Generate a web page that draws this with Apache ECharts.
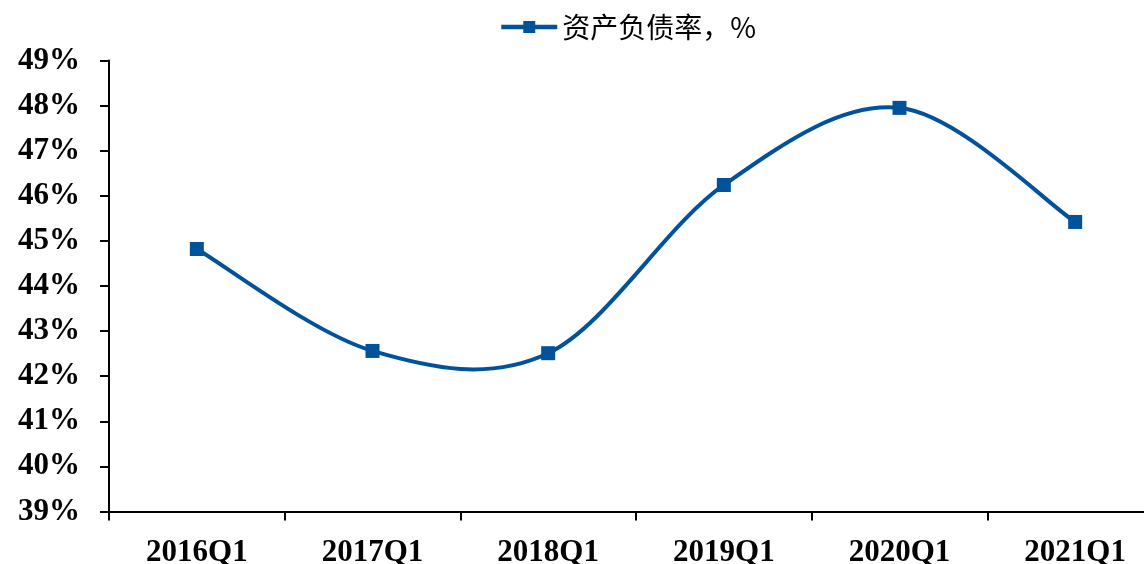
<!DOCTYPE html>
<html>
<head>
<meta charset="utf-8">
<script src="https://cdn.jsdelivr.net/npm/echarts@6/dist/echarts.min.js"></script>
<style>
  html, body { margin: 0; padding: 0; background: #ffffff; }
  #chart { width: 1144px; height: 564px; }
</style>
</head>
<body>
<div id="chart"></div>
<script>
// Quarterly asset-liability ratio (%)
const categories = ['2016Q1', '2017Q1', '2018Q1', '2019Q1', '2020Q1', '2021Q1'];
const debtRatio = [44.82, 42.56, 42.51, 46.24, 47.95, 45.42];
const seriesName = '资产负债率，%';
const yMin = 39;
const yMax = 49;
const yStep = 1;

const lineColor = '#00529B';
const serifFont = '"Liberation Serif", "Times New Roman", serif';

const chart = echarts.init(document.getElementById('chart'), null, { renderer: 'canvas' });

// Catmull-Rom style spline through the projected points, written as cubic Beziers.
function splinePath(pts) {
  let d = 'M' + pts[0][0] + ' ' + pts[0][1];
  for (let i = 0; i < pts.length - 1; i++) {
    const p0 = pts[Math.max(i - 1, 0)];
    const p1 = pts[i];
    const p2 = pts[i + 1];
    const p3 = pts[Math.min(i + 2, pts.length - 1)];
    const c1x = p1[0] + (p2[0] - p0[0]) / 6;
    const c1y = p1[1] + (p2[1] - p0[1]) / 6;
    const c2x = p2[0] - (p3[0] - p1[0]) / 6;
    const c2y = p2[1] - (p3[1] - p1[1]) / 6;
    d += ' C' + c1x + ' ' + c1y + ' ' + c2x + ' ' + c2y + ' ' + p2[0] + ' ' + p2[1];
  }
  return d;
}

chart.setOption({
  backgroundColor: '#ffffff',
  animation: false,
  legend: {
    top: 8,
    left: 494,
    itemWidth: 56,
    itemHeight: 15,
    itemGap: 7,
    lineStyle: { width: 4.5, color: lineColor, opacity: 1 },
    textStyle: {
      fontFamily: '"Noto Sans CJK SC", sans-serif',
      fontSize: 28,
      color: '#000000'
    },
    data: [seriesName]
  },
  grid: {
    left: 109,
    top: 60.5,
    width: 1054,
    height: 451,
    outerBoundsMode: 'none',
    containLabel: false
  },
  xAxis: {
    type: 'category',
    data: categories,
    boundaryGap: true,
    axisLine: { lineStyle: { color: '#000000', width: 2 } },
    axisTick: { show: true, length: 9, lineStyle: { color: '#000000', width: 2 } },
    axisLabel: {
      margin: 26,
      fontFamily: serifFont,
      fontWeight: 'bold',
      fontSize: 31,
      color: '#000000'
    },
    splitLine: { show: false }
  },
  yAxis: {
    type: 'value',
    min: yMin,
    max: yMax,
    interval: yStep,
    axisLine: { show: true, lineStyle: { color: '#000000', width: 2 } },
    axisTick: { show: true, length: 9, lineStyle: { color: '#000000', width: 2 } },
    axisLabel: {
      margin: 29,
      fontFamily: serifFont,
      fontWeight: 'bold',
      fontSize: 31,
      color: '#000000',
      formatter: v => v + '%'
    },
    splitLine: { show: false }
  },
  series: [
    {
      // smooth curve through all points
      type: 'custom',
      data: debtRatio.map((v, i) => [i, v]),
      z: 2,
      silent: true,
      renderItem: function (params, api) {
        if (params.dataIndex !== 0) return null;
        const pts = debtRatio.map((v, i) => api.coord([i, v]));
        return {
          type: 'path',
          shape: { pathData: splinePath(pts) },
          style: { fill: null, stroke: lineColor, lineWidth: 4, lineJoin: 'round' }
        };
      }
    },
    {
      name: seriesName,
      type: 'line',
      data: debtRatio,
      symbol: 'rect',
      symbolSize: 14,
      lineStyle: { color: lineColor, width: 4, opacity: 0 },
      itemStyle: { color: lineColor },
      z: 3
    }
  ]
});
</script>
</body>
</html>
